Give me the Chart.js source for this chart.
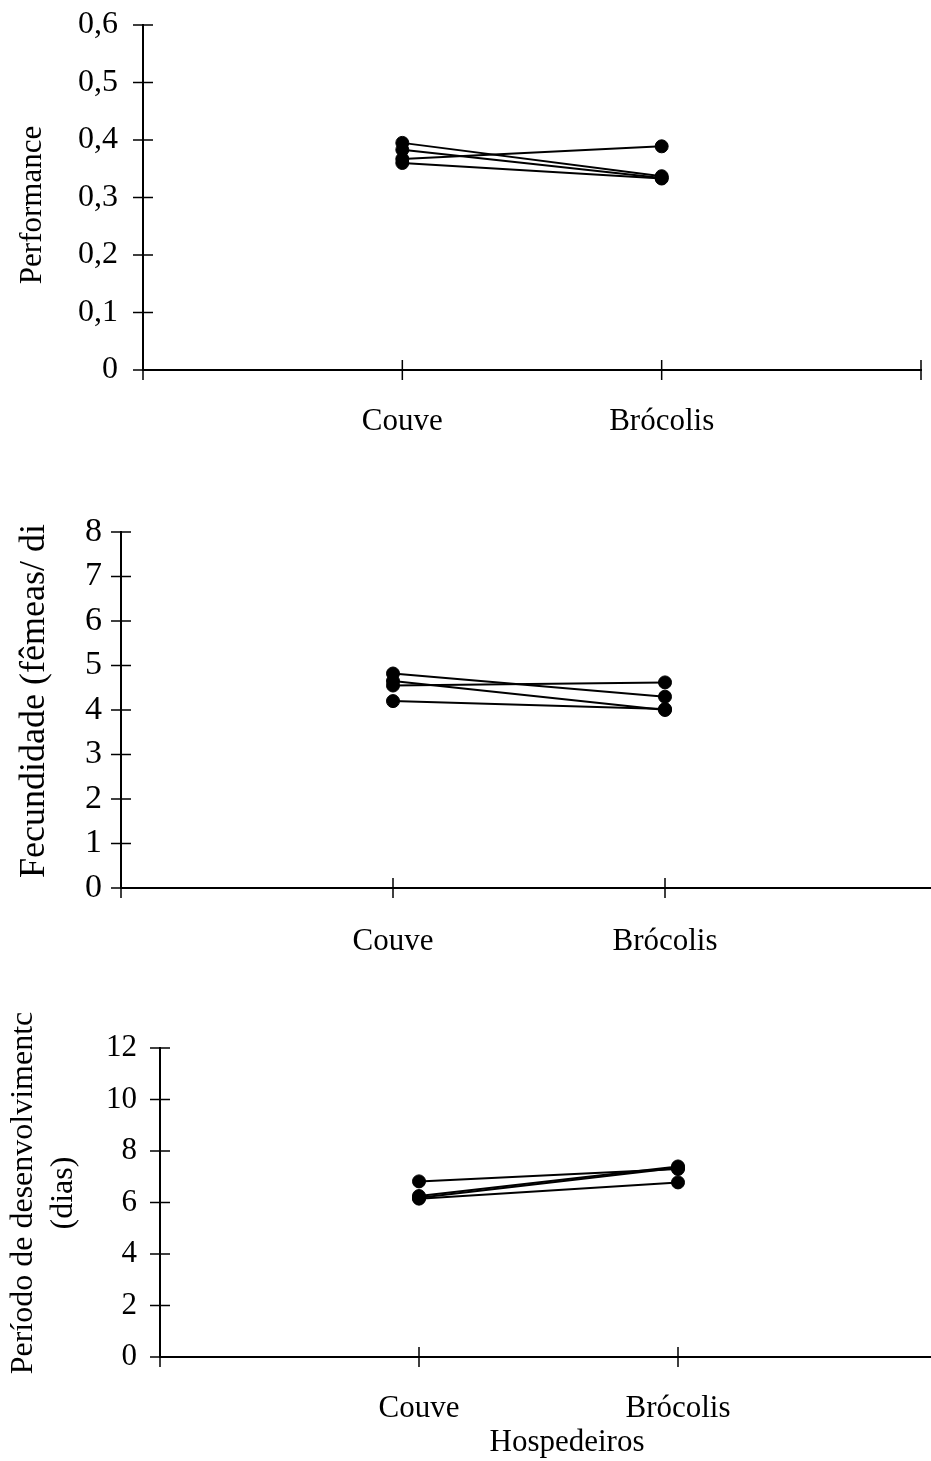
<!DOCTYPE html>
<html>
<head>
<meta charset="utf-8">
<script src="https://cdn.jsdelivr.net/npm/chart.js@4"></script>
<style>
  html, body { margin: 0; padding: 0; background: #fff; }
  body { width: 931px; height: 1461px; overflow: hidden; position: relative; }
  canvas { position: absolute; left: 0; }
</style>
</head>
<body>
<canvas id="perfChart" width="931" height="470" style="top:0px"></canvas>
<canvas id="fecChart" width="947" height="490" style="top:470px"></canvas>
<canvas id="devChart" width="947" height="501" style="top:960px"></canvas>
<script>
const hosts = ["Couve", "Brócolis"];

// one line per population, couve -> brócolis
const perfCouve = [0.395, 0.383, 0.367, 0.360];
const perfBrocolis = [0.337, 0.334, 0.389, 0.333];

const fecCouve = [4.82, 4.65, 4.55, 4.20];
const fecBrocolis = [4.30, 4.00, 4.62, 4.02];

const devCouve = [6.82, 6.25, 6.18, 6.15];
const devBrocolis = [7.30, 7.40, 7.35, 6.78];

const FONT = "'Liberation Serif', 'Times New Roman', serif";

// tick marks crossing the axis lines (Excel style)
const crossTicks = {
  id: "crossTicks",
  afterDraw(chart) {
    const { ctx, scales: { x, y } } = chart;
    ctx.save();
    ctx.strokeStyle = "#000";
    ctx.lineWidth = 1.5;
    ctx.beginPath();
    x.ticks.forEach((t) => {
      const px = x.getPixelForValue(t.value);
      ctx.moveTo(px, y.bottom - 10);
      ctx.lineTo(px, y.bottom + 10);
    });
    y.ticks.forEach((t) => {
      const py = y.getPixelForValue(t.value);
      ctx.moveTo(x.left - 10, py);
      ctx.lineTo(x.left + 10, py);
    });
    ctx.stroke();
    ctx.restore();
  },
};

const sideTitles = {
  id: "sideTitles",
  afterDraw(chart, args, opts) {
    const ctx = chart.ctx;
    (opts.items || []).forEach((item) => {
      ctx.save();
      ctx.font = item.size + "px " + FONT;
      ctx.fillStyle = "#000";
      ctx.textAlign = "center";
      ctx.textBaseline = "middle";
      ctx.translate(item.x, item.y);
      if (item.rotate) ctx.rotate(-Math.PI / 2);
      item.lines.forEach((t, i) => ctx.fillText(t, 0, i * item.lineHeight));
      ctx.restore();
    });
  },
};

function buildPanel(id, cfg) {
  const datasets = cfg.couve.map((v, i) => ({
    data: [
      { x: 1, y: v },
      { x: 2, y: cfg.brocolis[i] },
    ],
    showLine: true,
    borderColor: "#000",
    borderWidth: 2,
    pointRadius: 6.5,
    pointBackgroundColor: "#000",
    pointBorderColor: "#000",
    pointBorderWidth: 1,
  }));

  new Chart(document.getElementById(id), {
    type: "scatter",
    data: { datasets },
    options: {
      responsive: false,
      animation: false,
      layout: { padding: { top: cfg.top, right: 10, left: 0, bottom: 0 } },
      plugins: {
        legend: { display: false },
        tooltip: { enabled: false },
        sideTitles: { items: cfg.titles },
      },
      scales: {
        x: {
          type: "linear",
          min: 0,
          max: 3,
          ticks: {
            stepSize: 1,
            autoSkip: false,
            maxRotation: 0,
            padding: cfg.xPad,
            color: "#000",
            font: { family: FONT, size: 31 },
            callback: (v) => hosts[v - 1] || "",
          },
          grid: { display: false, drawTicks: false },
          border: { display: true, color: "#000", width: 2 },
          afterFit: (s) => {
            s.height = cfg.xHeight;
            s.paddingLeft = 0;
            s.paddingRight = 0;
          },
        },
        y: {
          min: 0,
          max: cfg.yMax,
          ticks: {
            stepSize: cfg.yStep,
            autoSkip: false,
            padding: cfg.yPad,
            color: "#000",
            font: { family: FONT, size: cfg.ySize },
            callback: cfg.fmt,
          },
          grid: { display: false, drawTicks: false },
          border: { display: true, color: "#000", width: 2 },
          afterFit: (s) => {
            s.width = cfg.left;
            s.paddingTop = 0;
            s.paddingBottom = 0;
          },
        },
      },
    },
    plugins: [crossTicks, sideTitles],
  });
}

buildPanel("perfChart", {
  couve: perfCouve,
  brocolis: perfBrocolis,
  yMax: 0.6,
  yStep: 0.1,
  fmt: (v) => (v === 0 ? "0" : v.toFixed(1).replace(".", ",")),
  top: 25,
  left: 143,
  xHeight: 100,
  xPad: 33,
  yPad: 25,
  ySize: 32,
  titles: [{ lines: ["Performance"], x: 33, y: 205, rotate: true, size: 31, lineHeight: 40 }],
});

buildPanel("fecChart", {
  couve: fecCouve,
  brocolis: fecBrocolis,
  yMax: 8,
  yStep: 1,
  fmt: (v) => String(v),
  top: 62,
  left: 121,
  xHeight: 72,
  xPad: 35,
  yPad: 19,
  ySize: 34,
  titles: [{ lines: ["Fecundidade (fêmeas/ di"], x: 35, y: 231, rotate: true, size: 36, lineHeight: 40 }],
});

buildPanel("devChart", {
  couve: devCouve,
  brocolis: devBrocolis,
  yMax: 12,
  yStep: 2,
  fmt: (v) => String(v),
  top: 88,
  left: 160,
  xHeight: 104,
  xPad: 33,
  yPad: 23,
  ySize: 31,
  titles: [
    { lines: ["Período de desenvolvimentc", "(dias)"], x: 24, y: 233, rotate: true, size: 32, lineHeight: 40 },
    { lines: ["Hospedeiros"], x: 567, y: 483, rotate: false, size: 31, lineHeight: 40 },
  ],
});
</script>
</body>
</html>
